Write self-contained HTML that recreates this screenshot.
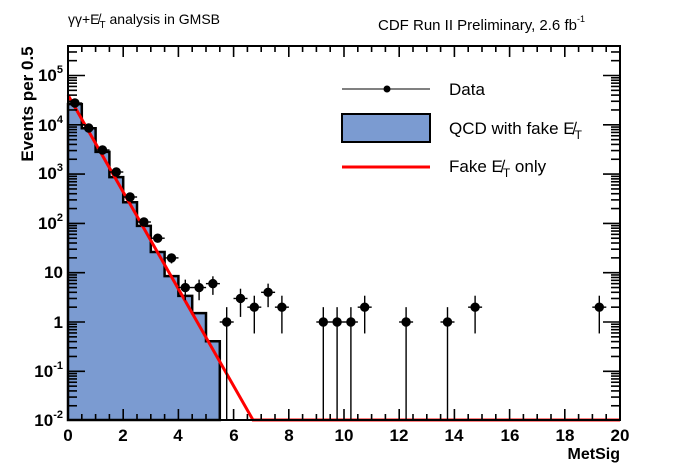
<!DOCTYPE html>
<html><head><meta charset="utf-8"><style>
body{margin:0;background:#fff;}
svg{display:block;font-family:"Liberation Sans",Arial,sans-serif;}
</style></head><body>
<svg id="s" width="689" height="467" xmlns="http://www.w3.org/2000/svg">
<rect width="689" height="467" fill="#fff"/>
<path d="M68,420 V104.1 H81.8 V128.2 H95.6 V151.9 H109.4 V177.1 H123.2 V202.2 H137 V225.9 H150.8 V252 H164.6 V276.1 H178.4 V295.9 H192.2 V313.1 H206 V341.2 H219.8 V420 Z" fill="#7b9bd1" stroke="#000" stroke-width="2.5"/>
<polyline points="68,95 253,420 620,420" fill="none" stroke="#f00" stroke-width="3"/>
<g id="data" stroke="#000" stroke-width="1.4" fill="#000"></g>
<g id="ticks" stroke="#000" stroke-width="1.6"></g>
<rect x="68" y="46" width="552" height="374" fill="none" stroke="#000" stroke-width="2"/>
<g font-weight="bold" font-size="17" text-anchor="end">
<text x="63" y="81">10<tspan dy="-8" font-size="11">5</tspan></text>
<text x="63" y="131">10<tspan dy="-8" font-size="11">4</tspan></text>
<text x="63" y="179">10<tspan dy="-8" font-size="11">3</tspan></text>
<text x="63" y="229">10<tspan dy="-8" font-size="11">2</tspan></text>
<text x="63" y="278">10</text>
<text x="63" y="328">1</text>
<text x="63" y="377">10<tspan dy="-8" font-size="11">-1</tspan></text>
<text x="63" y="426">10<tspan dy="-8" font-size="11">-2</tspan></text>
</g>
<g font-weight="bold" font-size="17" text-anchor="middle">
<text x="68" y="441">0</text><text x="123" y="441">2</text><text x="178" y="441">4</text>
<text x="234" y="441">6</text><text x="289" y="441">8</text><text x="344" y="441">10</text>
<text x="399" y="441">12</text><text x="454" y="441">14</text><text x="510" y="441">16</text>
<text x="565" y="441">18</text><text x="620" y="441">20</text>
</g>
<text x="620" y="459" font-weight="bold" font-size="16" text-anchor="end">MetSig</text>
<text transform="translate(33,104) rotate(-90)" font-weight="bold" font-size="17" text-anchor="middle">Events per 0.5</text>
<text x="68" y="24" font-size="14">γγ+E̸<tspan font-size="10" dy="4">T</tspan><tspan dy="-4"> analysis in GMSB</tspan></text>
<text x="378" y="30" font-size="15">CDF Run II Preliminary, 2.6 fb<tspan dy="-8" font-size="9">-1</tspan></text>
<line x1="342" y1="89" x2="430" y2="89" stroke="#000" stroke-width="1"/>
<circle cx="387" cy="89" r="3.5"/>
<rect x="342" y="114" width="88" height="28" fill="#7b9bd1" stroke="#000" stroke-width="2"/>
<line x1="342" y1="167" x2="430" y2="167" stroke="#f00" stroke-width="3"/>
<g font-size="17">
<text x="449" y="95">Data</text>
<text x="449" y="134">QCD with fake E̸<tspan font-size="12" dy="5">T</tspan></text>
<text x="449" y="172">Fake E̸<tspan font-size="12" dy="5">T</tspan><tspan dy="-5"> only</tspan></text>
</g>
</svg>
<script>
var NS="http://www.w3.org/2000/svg";
function el(p,t,a){var e=document.createElementNS(NS,t);for(var k in a)e.setAttribute(k,a[k]);p.appendChild(e);}
var T=document.getElementById("ticks");
function ln(x1,y1,x2,y2){el(T,"line",{x1:x1,y1:y1,x2:x2,y2:y2});}
for(var i=0;i<=40;i++){var x=68+13.8*i,L=(i%4==0)?11:6;ln(x,420,x,420-L);ln(x,46,x,46+L);}
function Y(v){return 322-49.3*Math.log10(v);}
for(var d=-2;d<=5;d++){for(var m=1;m<=9;m++){var y=Y(m*Math.pow(10,d));if(y<46||y>420)continue;var L=m==1?17:9;ln(68,y,68+L,y);ln(620,y,620-L,y);}}
var D=document.getElementById("data");
var pts=[[0.25,103,0,0],[0.75,128,0,0],[1.25,150,0,0],[1.75,172,0,0],[2.25,197,0,0],[2.75,222,0,0],[3.25,238.2,235.4,241.5],[3.75,257.9,253.6,263.4],[4.25,5],[4.75,5],[5.25,6],[5.75,1],[6.25,3],[6.75,2],[7.25,4],[7.75,2],[9.25,1],[9.75,1],[10.25,1],[10.75,2],[12.25,1],[13.75,1],[14.75,2],[19.25,2]];
pts.forEach(function(p){var x=68+27.6*p[0],y,y1,y2;
 if(p.length==2){var n=p[1];y=Y(n);y1=Y(n+Math.sqrt(n));y2=n-Math.sqrt(n)<=0.0101?420:Y(n-Math.sqrt(n));}
 else{y=p[1];y1=p[2]||y;y2=p[3]||y;}
 el(D,"line",{x1:x-7,y1:y,x2:x+7,y2:y});
 if(y1!=y2)el(D,"line",{x1:x,y1:y1,x2:x,y2:y2});
 el(D,"circle",{cx:x,cy:y,r:4});});
</script>
</body></html>
